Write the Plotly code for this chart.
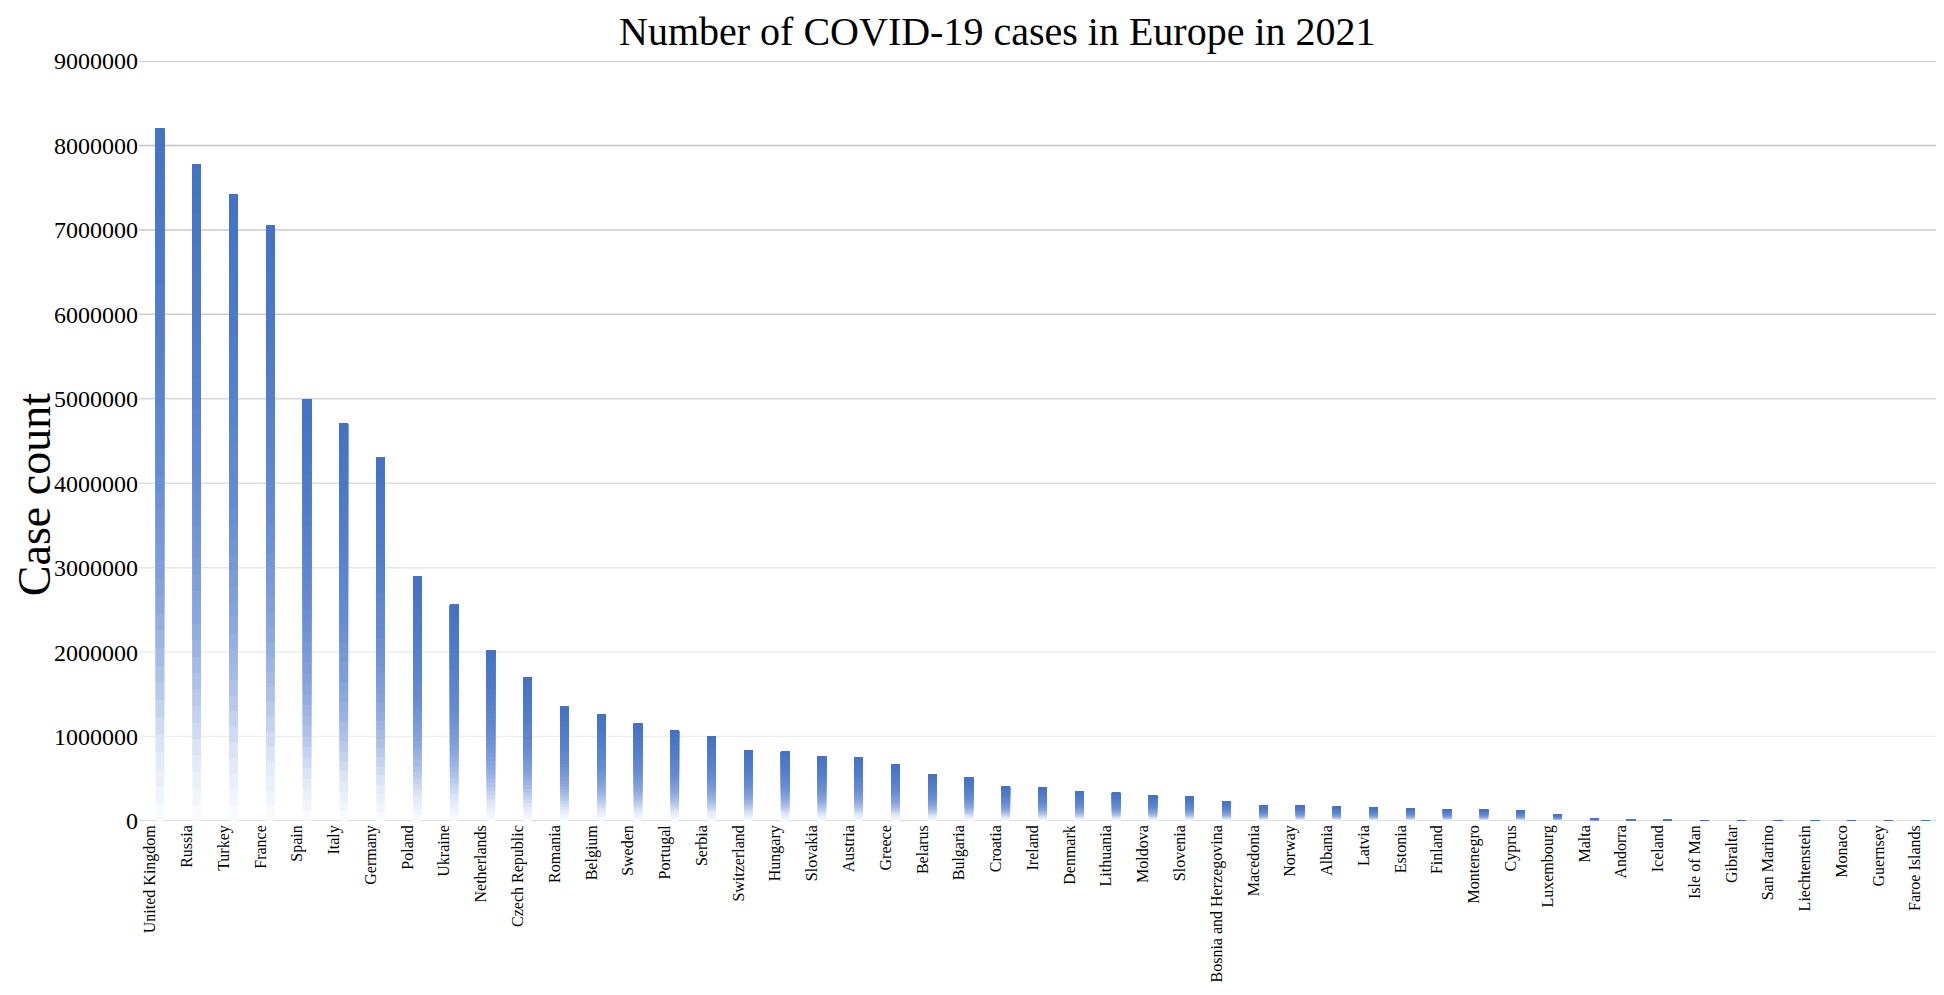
import plotly.graph_objects as go

countries = ["United Kingdom", "Russia", "Turkey", "France", "Spain", "Italy", "Germany",
             "Poland", "Ukraine", "Netherlands", "Czech Republic", "Romania", "Belgium",
             "Sweden", "Portugal", "Serbia", "Switzerland", "Hungary", "Slovakia", "Austria",
             "Greece", "Belarus", "Bulgaria", "Croatia", "Ireland", "Denmark", "Lithuania",
             "Moldova", "Slovenia", "Bosnia and Herzegovina", "Macedonia", "Norway", "Albania",
             "Latvia", "Estonia", "Finland", "Montenegro", "Cyprus", "Luxembourg", "Malta",
             "Andorra", "Iceland", "Isle of Man", "Gibraltar", "San Marino", "Liechtenstein",
             "Monaco", "Guernsey", "Faroe Islands"]

cases = [8200000, 7780000, 7420000, 7050000, 4990000, 4710000, 4310000,
         2895000, 2560000, 2020000, 1700000, 1354000, 1260000,
         1153000, 1070000, 999000, 838000, 821000, 762000, 750000,
         672000, 553000, 513000, 411000, 395000, 352000, 332000,
         300000, 292000, 233000, 186000, 182000, 166000,
         162000, 154000, 139000, 135000, 123000, 80000, 32000,
         15000, 12000, 8000, 6000, 6000, 5000,
         5000, 3000, 3000]

y_ticks = [0, 1000000, 2000000, 3000000, 4000000, 5000000, 6000000, 7000000, 8000000, 9000000]
grid_colors = ["#D0D0D0", "#EFEFEF", "#ECECEC", "#E6E6E6", "#DEDEDE", "#D7D7D7",
               "#D0D0D0", "#C9C9C9", "#C3C3C3", "#BEBEBE"]

# gradient stops (fraction of bar height from bottom, rgb)
grad_stops = [(0.00, (250, 252, 255)), (0.10, (224, 232, 247)), (0.20, (178, 197, 233)),
              (0.32, (136, 165, 221)), (0.50, (102, 140, 210)), (0.75, (82, 124, 201)),
              (1.00, (68, 114, 196))]


def grad(t):
    for (t0, c0), (t1, c1) in zip(grad_stops[:-1], grad_stops[1:]):
        if t <= t1:
            f = (t - t0) / (t1 - t0)
            c = [round(a + (b - a) * f) for a, b in zip(c0, c1)]
            return "rgb(%d,%d,%d)" % tuple(c)
    return "rgb(%d,%d,%d)" % grad_stops[-1][1]


FONT = "Liberation Serif, Times New Roman, serif"
fig = go.Figure()

N = 40
BAR_W = 0.23
BAR_SHIFT = 0.27  # bars sit a little right of their category label
for k in range(N):
    f0 = k / N
    fig.add_trace(go.Bar(
        x=countries,
        y=[v * (1 - f0) for v in cases],
        base=[v * f0 for v in cases],
        width=BAR_W,
        offset=BAR_SHIFT - BAR_W / 2,
        marker=dict(color=grad((k + 0.5) / N), line=dict(width=0)),
        showlegend=False,
        hoverinfo="skip" if k < N - 1 else None,
    ))

for v, c in zip(y_ticks, grid_colors):
    fig.add_hline(y=v, line=dict(color=c, width=1.5), layer="below")

fig.add_annotation(
    text="Case count", textangle=-90,
    xref="paper", yref="paper", x=-0.0582, y=0.430,
    xanchor="center", yanchor="middle", showarrow=False,
    font=dict(family=FONT, size=46, color="black"),
)

# the page body adds an 8px margin, so the figure is 1936x987
fig.update_layout(
    width=1936, height=987,
    barmode="overlay",
    plot_bgcolor="white", paper_bgcolor="white",
    margin=dict(l=131, r=0, t=53, b=174),
    title=dict(text="Number of COVID-19 cases in Europe in 2021",
               x=0.511, xanchor="center", xref="container",
               y=1 - 9 / 987, yanchor="top", yref="container",
               font=dict(family=FONT, size=40, color="black")),
    font=dict(family=FONT, color="black"),
)
fig.update_xaxes(
    type="category", range=[-0.299, 48.78],
    tickangle=-90, tickfont=dict(family=FONT, size=16, color="black"),
    showgrid=False, showline=False, ticks="", zeroline=False,
)
fig.update_yaxes(
    range=[0, 9000000], tickvals=y_ticks, ticktext=[str(v) for v in y_ticks],
    tickfont=dict(family=FONT, size=24, color="black"),
    showgrid=False, zeroline=False, showline=False, ticks="",
)

fig.write_html("out.html")
